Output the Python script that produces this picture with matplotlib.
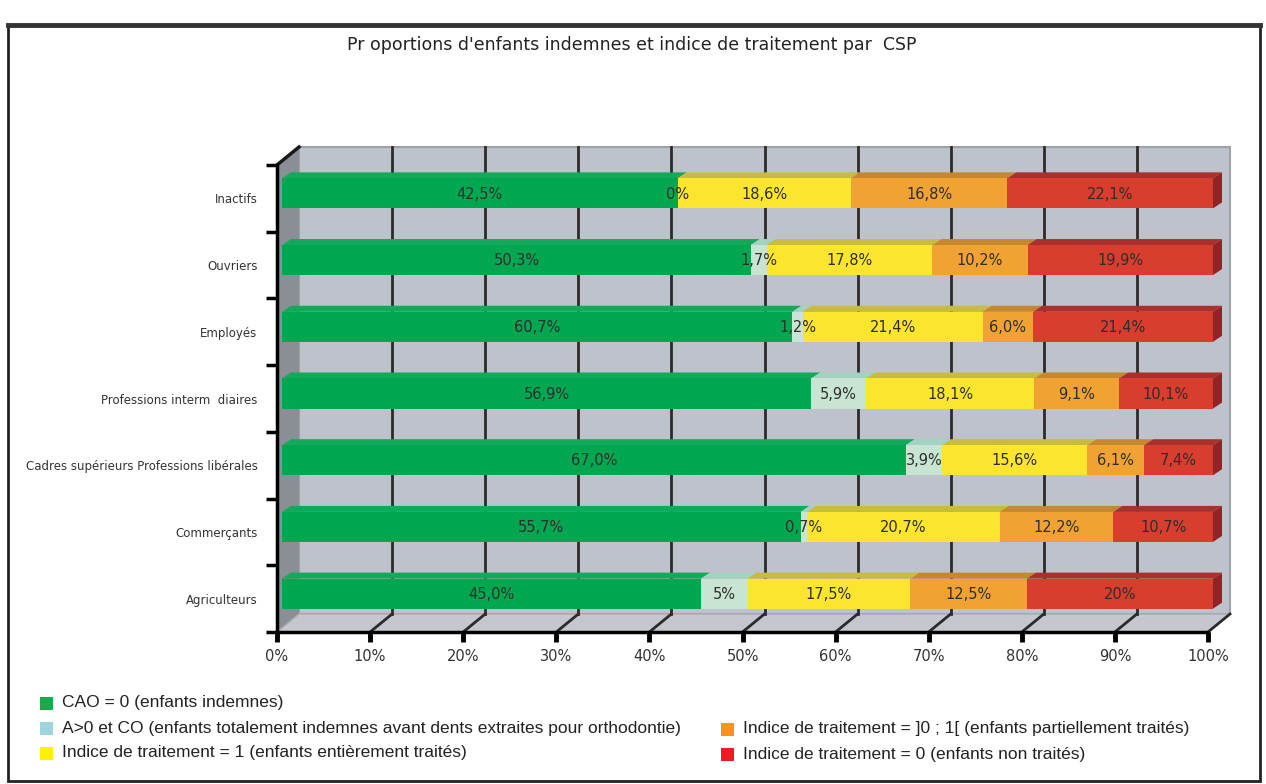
import matplotlib.pyplot as plt
import numpy as np
from matplotlib.patches import Polygon, Rectangle

# data, top row first
categories = ["Inactifs", "Ouvriers", "Employés", "Professions interm  diaires",
              "Cadres supérieurs Professions libérales", "Commerçants", "Agriculteurs"]
indemnes = [42.5, 50.3, 60.7, 56.9, 67.0, 55.7, 45.0]
ortho = [0, 1.7, 1.2, 5.9, 3.9, 0.7, 5]
traites = [18.6, 17.8, 21.4, 18.1, 15.6, 20.7, 17.5]
partiel = [16.8, 10.2, 6.0, 9.1, 6.1, 12.2, 12.5]
non_traites = [22.1, 19.9, 21.4, 10.1, 7.4, 10.7, 20]

lab_indemnes = ["42,5%", "50,3%", "60,7%", "56,9%", "67,0%", "55,7%", "45,0%"]
lab_ortho = ["0%", "1,7%", "1,2%", "5,9%", "3,9%", "0,7%", "5%"]
lab_traites = ["18,6%", "17,8%", "21,4%", "18,1%", "15,6%", "20,7%", "17,5%"]
lab_partiel = ["16,8%", "10,2%", "6,0%", "9,1%", "6,1%", "12,2%", "12,5%"]
lab_non = ["22,1%", "19,9%", "21,4%", "10,1%", "7,4%", "10,7%", "20%"]

legend_labels = [
    "CAO = 0 (enfants indemnes)",
    "A>0 et CO (enfants totalement indemnes avant dents extraites pour orthodontie)",
    "Indice de traitement = 1 (enfants entièrement traités)",
    "Indice de traitement = ]0 ; 1[ (enfants partiellement traités)",
    "Indice de traitement = 0 (enfants non traités)",
]
x_ticks = np.arange(0, 101, 10)

series = [indemnes, ortho, traites, partiel, non_traites]
series_labels = [lab_indemnes, lab_ortho, lab_traites, lab_partiel, lab_non]
front_cols = ["#00A650", "#C8E4D3", "#FBE52F", "#F0A233", "#D83D2D"]
top_cols = ["#12A95A", "#A3D2C2", "#C8BC40", "#C5882E", "#A9302D"]
legend_cols = ["#1BA94C", "#9ED5DC", "#FFF200", "#F7941D", "#ED1C24"]

W, H = 1266, 784
fig = plt.figure(figsize=(W / 100, H / 100), dpi=100)

# bar plane axes (bars sit slightly behind the front plane)
ax = fig.add_axes([282 / W, 1 - 627 / H, 931 / W, 467 / H])
ax.set_xlim(0, 100)
ax.set_ylim(6.5, -0.5)
ax.axis("off")

sx = 100 / 931   # data units per pixel
sy = 7 / 467


def sh(x, y, d):
    return (x + d[0] * sx, y - d[1] * sy)


FRONT = (-5, -5)
WALL = (17, 13)
DEPTH = (9, 6)

# back wall, side wall and floor
wall = [sh(0, -0.5, WALL), sh(100, -0.5, WALL), sh(100, 6.5, WALL), sh(0, 6.5, WALL)]
ax.add_patch(Polygon(wall, closed=True, fc="#BEC2CA", ec="#9DA1A8", lw=1.5, zorder=0, clip_on=False))
side = [sh(0, -0.5, FRONT), sh(0, 6.5, FRONT), sh(0, 6.5, WALL), sh(0, -0.5, WALL)]
ax.add_patch(Polygon(side, closed=True, fc="#8A8F96", ec="none", zorder=1, clip_on=False))
floor = [sh(0, 6.5, FRONT), sh(100, 6.5, FRONT), sh(100, 6.5, WALL), sh(0, 6.5, WALL)]
ax.add_patch(Polygon(floor, closed=True, fc="#C4C7CD", ec="#A9ADB3", lw=1, zorder=1, clip_on=False))

for k in x_ticks[1:]:
    if k < 100:
        p0, p1 = sh(k, -0.5, WALL), sh(k, 6.5, WALL)
        ax.plot([p0[0], p1[0]], [p0[1], p1[1]], color="#2B2B2B", lw=2, zorder=2, clip_on=False)
    q0, q1 = sh(k, 6.5, FRONT), sh(k, 6.5, WALL)
    ax.plot([q0[0], q1[0]], [q0[1], q1[1]], color="#2B2B2B", lw=2, zorder=2, clip_on=False)
t0, t1 = sh(0, -0.5, FRONT), sh(0, -0.5, WALL)
ax.plot([t0[0], t1[0]], [t0[1], t1[1]], color="#1A1A1A", lw=2.5, zorder=2, clip_on=False)

# stacked bars, normalised to 100 %
vals = np.array(series, dtype=float)
shares = vals / vals.sum(axis=0) * 100
y = np.arange(len(categories))
h = 0.45
left = np.zeros(len(categories))
for j in range(len(series)):
    ax.barh(y, shares[j], left=left, height=h, color=front_cols[j], zorder=5)
    for i in range(len(categories)):
        l, w = left[i], shares[j][i]
        top = [(l, y[i] - h / 2), (l + w, y[i] - h / 2),
               sh(l + w, y[i] - h / 2, DEPTH), sh(l, y[i] - h / 2, DEPTH)]
        ax.add_patch(Polygon(top, closed=True, fc=top_cols[j], ec="none", zorder=4, clip_on=False))
        ax.text(l + w / 2, y[i] + 0.01, series_labels[j][i], ha="center", va="center",
                fontsize=10.5, color="#2E2E2E", zorder=6)
    left = left + shares[j]

for i in range(len(categories)):
    e = left[i]
    rside = [(e, y[i] - h / 2), (e, y[i] + h / 2),
             sh(e, y[i] + h / 2, DEPTH), sh(e, y[i] - h / 2, DEPTH)]
    ax.add_patch(Polygon(rside, closed=True, fc="#8F2526", ec="none", zorder=4, clip_on=False))

# front plane axes with the axis lines, ticks and labels
ax2 = fig.add_axes([277 / W, 1 - 632 / H, 931 / W, 467 / H])
ax2.patch.set_alpha(0)
ax2.set_xlim(0, 100)
ax2.set_ylim(6.5, -0.5)
for s in ["top", "right"]:
    ax2.spines[s].set_visible(False)
ax2.spines["left"].set_linewidth(2.5)
ax2.spines["bottom"].set_linewidth(2.5)
ax2.set_xticks(x_ticks)
ax2.set_xticklabels([f"{t}%" for t in x_ticks], fontsize=10.5, color="#333333")
ax2.tick_params(axis="x", length=7, width=3.5, pad=5)
ax2.set_yticks(np.arange(-0.5, 7, 1))
ax2.set_yticklabels([])
ax2.tick_params(axis="y", which="major", length=8, width=2.5)
ax2.set_yticks(y, minor=True)
ax2.set_yticklabels(categories, minor=True, fontsize=8.5, color="#333333")
ax2.tick_params(axis="y", which="minor", length=0, pad=14)

fig.text(632 / W, 1 - 45 / H, "Pr oportions d'enfants indemnes et indice de traitement par  CSP",
         ha="center", va="center", fontsize=12.5, color="#222222")

# legend
leg_pos = [(40, 703), (40, 728), (40, 753), (721, 729), (721, 754)]
for (px, py), lab, c in zip(leg_pos, legend_labels, legend_cols):
    fig.patches.append(Rectangle((px / W, 1 - (py + 6.5) / H), 13 / W, 13 / H,
                                 transform=fig.transFigure, fc=c, ec="none"))
    fig.text((px + 22) / W, 1 - py / H, lab, ha="left", va="center", fontsize=12.5,
             family="Liberation Sans", color="#222222")

# outer frame
fig.patches.append(Rectangle((8 / W, 1 - 781 / H), 1252 / W, 756 / H, transform=fig.transFigure,
                             fill=False, ec="#222222", lw=2))
fig.add_artist(plt.Line2D([8 / W, 1260 / W], [1 - 25 / H, 1 - 25 / H], color="#333333", lw=3.5))

fig.savefig("out.png", dpi=100)
